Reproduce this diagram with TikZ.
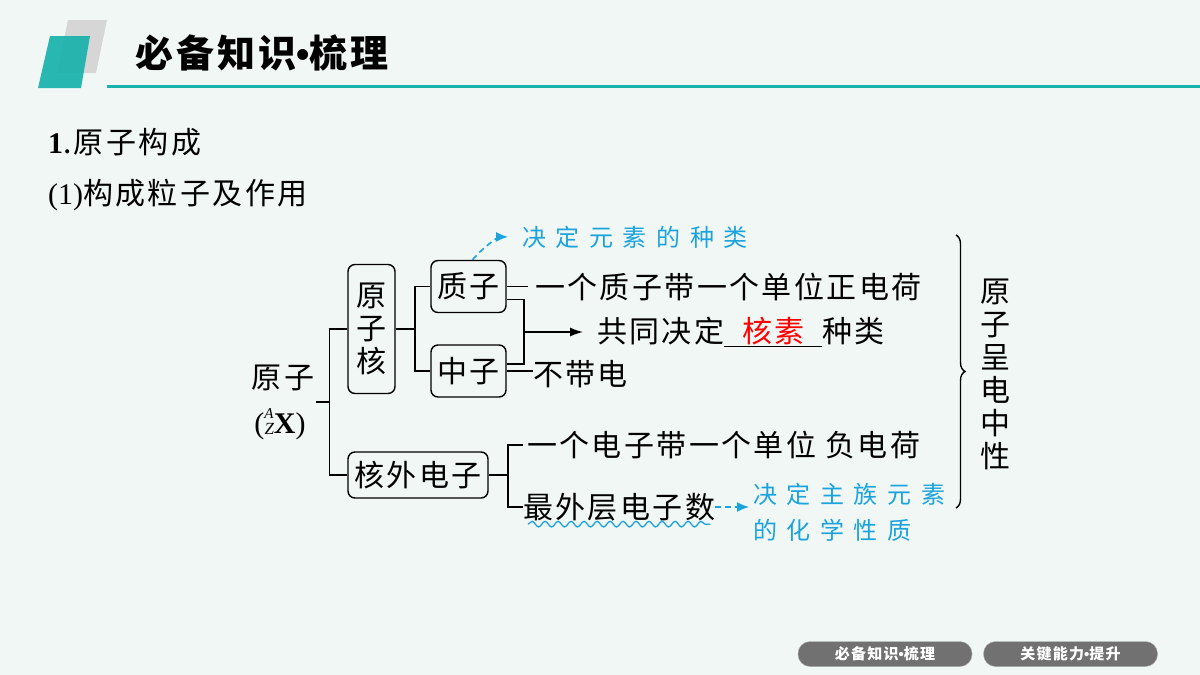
\documentclass[tikz,border=0pt]{standalone}
\usepackage{fontspec}
\setmainfont{Noto Sans CJK SC}[LetterSpace=8]
\newfontfamily\notefont{Noto Sans CJK SC}[LetterSpace=40]
\newfontfamily\serif{Liberation Serif}
\newfontfamily\dotfont{Liberation Sans}
\usetikzlibrary{positioning, arrows.meta, decorations.pathreplacing, decorations.pathmorphing}
\definecolor{bg}{HTML}{F1F7F4}
\definecolor{headteal}{HTML}{19B2AC}
\definecolor{headgray}{HTML}{D6D6D6}
\definecolor{noteblue}{HTML}{1AA3DC}
\definecolor{btngray}{HTML}{717171}
\newcommand{\midpoint}{{\dotfont\bfseries •}}
\tikzset{
x=1pt, y=-1pt, % pixel like coordinates, y goes down
box/.style={draw, line width=1.4pt, rounded corners=7pt, inner sep=0pt, font=\fontsize{30}{33}\selectfont}, % framed terms
txt/.style={inner sep=0pt, anchor=west, font=\fontsize{30}{34}\selectfont}, % plain text after a bracket
link/.style={line width=1.4pt}, % bracket lines
note/.style={inner sep=0pt, anchor=west, text=noteblue, font=\notefont\fontsize{24}{36}\selectfont}, % blue remarks
notearrow/.style={noteblue, line width=1.6pt, dash pattern=on 6pt off 4pt, -{Latex[length=12pt,width=10pt]}}, % dashed blue arrows
btn/.style={fill=btngray, draw=gray!60, rounded corners=12pt, minimum height=25pt, minimum width=174pt, inner sep=0pt, text=white, font=\bfseries\fontsize{15}{18}\selectfont}, % bottom tabs
}
\begin{document}
\begin{tikzpicture}
  \useasboundingbox[fill=bg] (0,0) rectangle (1200,675);
  % header
  \fill[headgray] (68,20) -- (107,20) -- (96,73) -- (57,73) -- cycle;
  \fill[headteal, opacity=0.92] (50,36) -- (90,36) -- (81,88) -- (38,88) -- cycle;
  \draw[headteal, line width=3pt] (107,86) -- (1200,86);
  \node[inner sep=0pt, anchor=west, font=\bfseries\fontsize{38}{42}\selectfont] (title) at (135,53) {必备知识\midpoint 梳理};
  \node[txt] (sec) at (48,142) {{\serif\bfseries 1}.原子构成};
  \node[txt] (sub) at (48,195) {{\serif (1)}构成粒子及作用};

  \node[txt, anchor=center] (atom) at (283,378) {原子};
  \node[txt, anchor=center] (atomsym) at (280,424) {{\serif (\raisebox{15pt}{\fontsize{15}{15}\selectfont\itshape A}\kern-9pt\raisebox{-1pt}{\fontsize{17}{17}\selectfont\itshape Z}\textbf{X})}};
  \node[box, minimum width=47pt, minimum height=129pt, align=center] (nucleus) at (371.5,329) {原\\子\\核};
  \node[box, minimum width=75pt, minimum height=52pt] (proton) at (468.5,286.5) {质子};
  \node[box, minimum width=75pt, minimum height=52pt] (neutron) at (468.5,371) {中子};
  \node[box, minimum width=140pt, minimum height=46pt] (shell) at (418,475) {核外电子};

  \node[txt] (protontext) at (535,287) {一个质子带一个单位正电荷};
  \node[txt] (sametext) at (597,332) {共同决定\underline{\makebox[98pt]{\color{red}核素}}种类};
  \node[txt] (neutrontext) at (533,374) {不带电};
  \node[txt] (shelltext) at (527,445) {一个电子带一个单位 负电荷};
  \node[txt] (outer) at (523,507) {最外层电子数};
  \node[note] (elemnote) at (522,237) {决定元素的种类};
  \node[note, align=left] (chemnote) at (753,512) {决定主族元素\\的化学性质};
  \node[txt, anchor=center, align=center, font=\fontsize{30}{33}\selectfont] (neutral) at (995,374) {原\\子\\呈\\电\\中\\性};

  \coordinate (atomfork) at (330,402);
  \coordinate (nucfork) at (415,329);
  \coordinate (samefork) at (524,332);
  \coordinate (shellfork) at (508,475);
  \draw[link] (nucleus.west) -- ++(-18,0) |- (shell.west);
  \draw[link] (atomfork) -- ++(-14,0);
  \draw[link] (nucleus.east) -- (nucfork);
  \draw[link] (proton.west) -| (nucfork) |- (neutron.west);
  \draw[link, shorten >=7pt] (proton.east) -- (protontext.west |- proton.east);
  \draw[link] ([yshift=-13pt]proton.east) -| (samefork) |- ([yshift=7pt]neutron.east);
  \draw[link, -{Latex[length=13pt,width=9pt]}, shorten >=14pt] (samefork) -- (sametext.west);
  \draw[link] (neutron.east) -- (neutron.east -| neutrontext.west);
  \draw[link] (shell.east) -- (shellfork);
  \draw[link, shorten <=4pt] (shelltext.west) -| (shellfork) |- (outer.west);

  \draw[notearrow, shorten >=14pt] ([xshift=4pt]proton.north) to[bend left=25] (elemnote.west);
  \draw[notearrow, shorten >=4pt] (outer.east) -- (outer.east -| chemnote.west);
  \draw[noteblue, line width=1.3pt, decorate, decoration={snake, amplitude=2.8pt, segment length=13pt}]
    ([xshift=5pt, yshift=-3pt]outer.south west) -- ([xshift=-5pt, yshift=-3pt]outer.south east);

  \draw[line width=1.4pt, decorate, decoration={brace, amplitude=9pt}] (956,235) -- (956,508);

  \node[btn] (tabA) at (885,654) {必备知识\midpoint 梳理};
  \node[btn] (tabB) at (1070.5,654) {关键能力\midpoint 提升};
\end{tikzpicture}
\end{document}
